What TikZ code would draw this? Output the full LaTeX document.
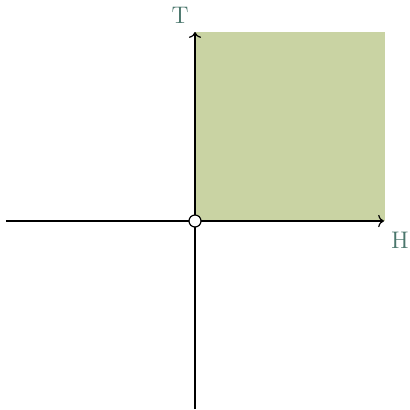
\documentclass[tikz,border=0pt]{standalone}
\usepackage{tikz}
\usetikzlibrary{arrows.meta}
\definecolor{labelteal}{RGB}{74,118,108}
\definecolor{quadgreen}{RGB}{201,211,163}

\begin{document}
\begin{tikzpicture}[x=0.5pt, y=0.5pt, axis/.style = {draw, line width=0.6pt, ->}, lbl/.style = {text=labelteal, font=\large}]
            \useasboundingbox (-195,-188) rectangle (215,221);
            \fill[quadgreen] (0,0) rectangle (190,189);

            \coordinate (O) at (0,0);
            \coordinate (W) at (-189,0);
            \coordinate (E) at (189,0);
            \coordinate (S) at (0,-188);
            \coordinate (N) at (0,189);

            \draw[axis] (W) -- (E);
            \draw[axis] (S) -- (N);

            \node[lbl] (T) at (-15,206) {T};
            \node[lbl] (H) at (205,-19) {H};

            \node[draw, circle, fill=white, line width=0.6pt, inner sep=0pt, minimum size=6pt] (origin) at (O) {};
        \end{tikzpicture}
\end{document}
